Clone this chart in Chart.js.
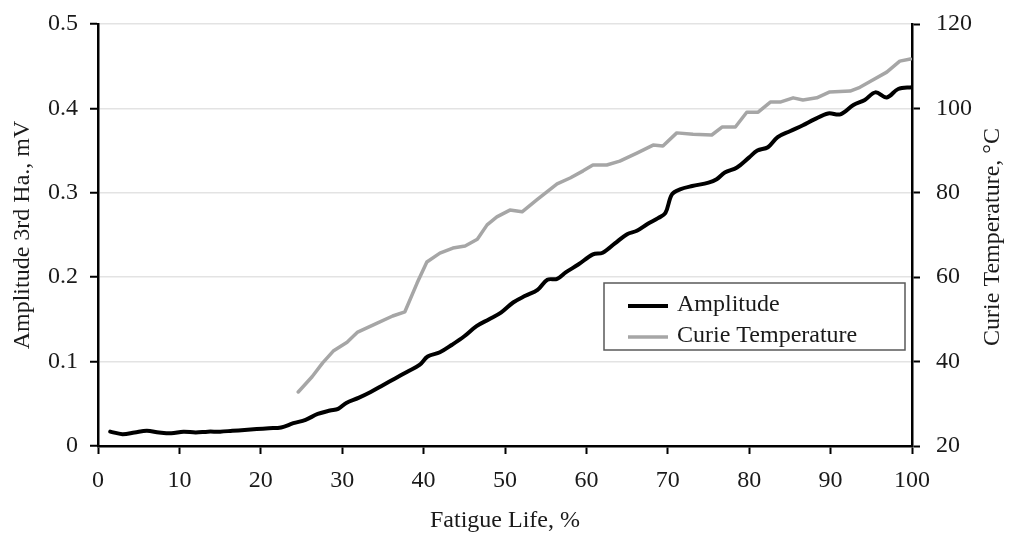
<!DOCTYPE html>
<html>
<head>
<meta charset="utf-8">
<script src="https://cdn.jsdelivr.net/npm/chart.js@4.4.1/dist/chart.umd.min.js"></script>
<style>
  html, body { margin: 0; padding: 0; background: #fff; }
  #wrap { width: 1019px; height: 536px; }
</style>
</head>
<body>
<div id="wrap"><canvas id="c" width="1019" height="536"></canvas></div>
<script>
// Fatigue life (%) and amplitude of the 3rd harmonic (mV)
const ampLife = [1.5, 3, 4.5, 6, 7.5, 9, 10.5, 12, 13.5, 15, 16.5, 18, 19.5, 21, 22.5, 24, 25.5, 27, 28.5, 29.5,
  30.5, 32, 33.5, 35, 36.5, 38, 39.5, 40.5, 42, 43.5, 45, 46.5, 48, 49.5, 51, 52.5, 54, 55.2, 56.4, 57.5,
  59, 60.8, 62, 63.5, 65, 66.2, 67.5, 68.8, 69.7, 70.5, 71.5, 73, 75, 76, 77, 78.5, 80, 81, 82.3, 83.5,
  85, 86.6, 88, 89.7, 91.2, 92.8, 94.2, 95.5, 96.9, 98.3, 100];
const amplitude = [0.017, 0.014, 0.016, 0.018, 0.016, 0.015, 0.017, 0.016, 0.017, 0.017, 0.018, 0.019, 0.020, 0.021, 0.022, 0.027, 0.031, 0.038, 0.042, 0.044,
  0.051, 0.057, 0.064, 0.072, 0.080, 0.088, 0.096, 0.106, 0.111, 0.120, 0.130, 0.142, 0.150, 0.158, 0.170, 0.178, 0.185, 0.197, 0.198, 0.206,
  0.215, 0.227, 0.229, 0.240, 0.251, 0.255, 0.263, 0.270, 0.276, 0.298, 0.304, 0.308, 0.312, 0.316, 0.324, 0.330, 0.342, 0.350, 0.354, 0.366,
  0.373, 0.380, 0.387, 0.394, 0.393, 0.404, 0.410, 0.419, 0.413, 0.423, 0.425];

// Fatigue life (%) and Curie temperature (°C)
const curieLife = [24.6, 26.3, 27.6, 28.9, 30.6, 31.9, 34.3, 36.2, 37.7, 39.2, 40.4, 42, 43.6, 45.1, 46.6, 47.8,
  49, 50.6, 52.1, 53.9, 56.4, 58, 59.6, 60.8, 62.5, 64.1, 66.2, 68.2, 69.4, 71.1, 73.1, 75.4, 76.7, 78.3,
  79.7, 81.1, 82.6, 83.8, 85.4, 86.6, 88.3, 89.9, 92.4, 93.6, 94.8, 96.9, 98.5, 99.8];
const curieTemp = [32.8, 36.4, 39.7, 42.5, 44.6, 47.0, 49.1, 50.8, 51.8, 58.6, 63.6, 65.7, 66.9, 67.4, 69.0, 72.4,
  74.3, 75.9, 75.5, 78.3, 82.1, 83.5, 85.2, 86.6, 86.6, 87.5, 89.4, 91.3, 91.1, 94.2, 93.9, 93.7, 95.6, 95.6,
  99.1, 99.1, 101.5, 101.5, 102.5, 102.0, 102.5, 103.9, 104.1, 105.0, 106.3, 108.6, 111.2, 111.7];

const seriesNames = ['Amplitude', 'Curie Temperature'];
const xTitle = 'Fatigue Life, %';
const yLeftTitle = 'Amplitude 3rd Ha., mV';
const yRightTitle = 'Curie Temperature, °C';

const FONT = '"Liberation Serif", "Times New Roman", serif';
const FS = 24;
const INK = '#1a1a1a';

function pts(xs, ys) { return xs.map((x, i) => ({ x: x, y: ys[i] })); }

// Fixed axis thickness; edge labels may spill into the page margin
function fixWidth(w) {
  return function (s) { s.width = w; s.paddingTop = 0; s.paddingBottom = 0; };
}
function fixHeight(h) {
  return function (s) { s.height = h; s.paddingLeft = 0; s.paddingRight = 0; };
}

// Legend drawn as a framed box inside the plot area
const boxLegend = {
  id: 'boxLegend',
  afterDatasetsDraw(chart, args, opts) {
    const ctx = chart.ctx;
    const a = chart.chartArea;
    const x0 = a.right - opts.right - opts.width, y0 = opts.top;
    ctx.save();
    ctx.fillStyle = '#fff';
    ctx.fillRect(x0, y0, opts.width, opts.height);
    ctx.strokeStyle = '#595959';
    ctx.lineWidth = 1.5;
    ctx.strokeRect(x0, y0, opts.width, opts.height);
    chart.data.datasets.forEach((ds, i) => {
      const yy = y0 + opts.firstRow + i * opts.rowGap;
      ctx.strokeStyle = ds.borderColor;
      ctx.lineWidth = ds.borderWidth;
      ctx.beginPath();
      ctx.moveTo(x0 + opts.lineStart, yy);
      ctx.lineTo(x0 + opts.lineStart + opts.lineLen, yy);
      ctx.stroke();
      ctx.fillStyle = INK;
      ctx.font = FS + 'px ' + FONT;
      ctx.textBaseline = 'middle';
      ctx.textAlign = 'left';
      ctx.fillText(ds.label, x0 + opts.textStart, yy - 1);
    });
    ctx.restore();
  }
};

// Title of the right-hand axis, reading upward
const rightTitle = {
  id: 'rightTitle',
  afterDraw(chart, args, opts) {
    const ctx = chart.ctx;
    const a = chart.chartArea;
    ctx.save();
    ctx.translate(opts.x, (a.top + a.bottom) / 2 + 2);
    ctx.rotate(-Math.PI / 2);
    ctx.fillStyle = INK;
    ctx.font = FS + 'px ' + FONT;
    ctx.textAlign = 'center';
    ctx.textBaseline = 'middle';
    ctx.fillText(opts.text, 0, 0);
    ctx.restore();
  }
};

new Chart(document.getElementById('c'), {
  type: 'line',
  data: {
    datasets: [
      {
        label: seriesNames[0],
        data: pts(ampLife, amplitude),
        yAxisID: 'y',
        borderColor: '#000000',
        borderWidth: 4,
        tension: 0.35,
        pointRadius: 0,
        borderCapStyle: 'round',
        borderJoinStyle: 'round',
        fill: false
      },
      {
        label: seriesNames[1],
        data: pts(curieLife, curieTemp),
        yAxisID: 'y2',
        borderColor: '#a6a6a6',
        borderWidth: 3.5,
        tension: 0,
        pointRadius: 0,
        borderCapStyle: 'round',
        borderJoinStyle: 'round',
        fill: false
      }
    ]
  },
  options: {
    responsive: false,
    animation: false,
    events: [],
    layout: { padding: { top: 24, left: 0, right: 0, bottom: 0 } },
    plugins: {
      legend: { display: false },
      tooltip: { enabled: false },
      boxLegend: { right: 7, width: 301, top: 283, height: 67, firstRow: 23, rowGap: 31, lineStart: 24, lineLen: 40, textStart: 73 },
      rightTitle: { x: 993, text: yRightTitle }
    },
    scales: {
      x: {
        type: 'linear',
        position: 'bottom',
        min: 0, max: 100,
        afterFit: fixHeight(90),
        ticks: { stepSize: 10, color: INK, font: { family: FONT, size: FS }, padding: 12, maxRotation: 0 },
        grid: { drawOnChartArea: false, tickLength: 8, tickColor: '#000', tickWidth: 2 },
        border: { color: '#000', width: 2.5 },
        title: { display: true, text: xTitle, color: INK, font: { family: FONT, size: FS }, padding: { top: 0, bottom: 1 } }
      },
      y: {
        type: 'linear',
        position: 'left',
        min: 0, max: 0.5,
        afterFit: fixWidth(98),
        ticks: { stepSize: 0.1, color: INK, font: { family: FONT, size: FS }, padding: 12 },
        grid: { color: '#e3e3e3', lineWidth: 1.5, tickLength: 8, tickColor: '#000', tickWidth: 2 },
        border: { color: '#000', width: 2.5 },
        title: { display: true, text: yLeftTitle, color: INK, font: { family: FONT, size: FS }, padding: { top: 8, bottom: 0 } }
      },
      y2: {
        type: 'linear',
        position: 'right',
        min: 20, max: 120,
        afterFit: fixWidth(107),
        ticks: { stepSize: 20, color: INK, font: { family: FONT, size: FS }, padding: 16 },
        grid: { drawOnChartArea: false, tickLength: 8, tickColor: '#000', tickWidth: 2 },
        border: { color: '#000', width: 2.5 }
      }
    }
  },
  plugins: [boxLegend, rightTitle]
});
</script>
</body>
</html>
